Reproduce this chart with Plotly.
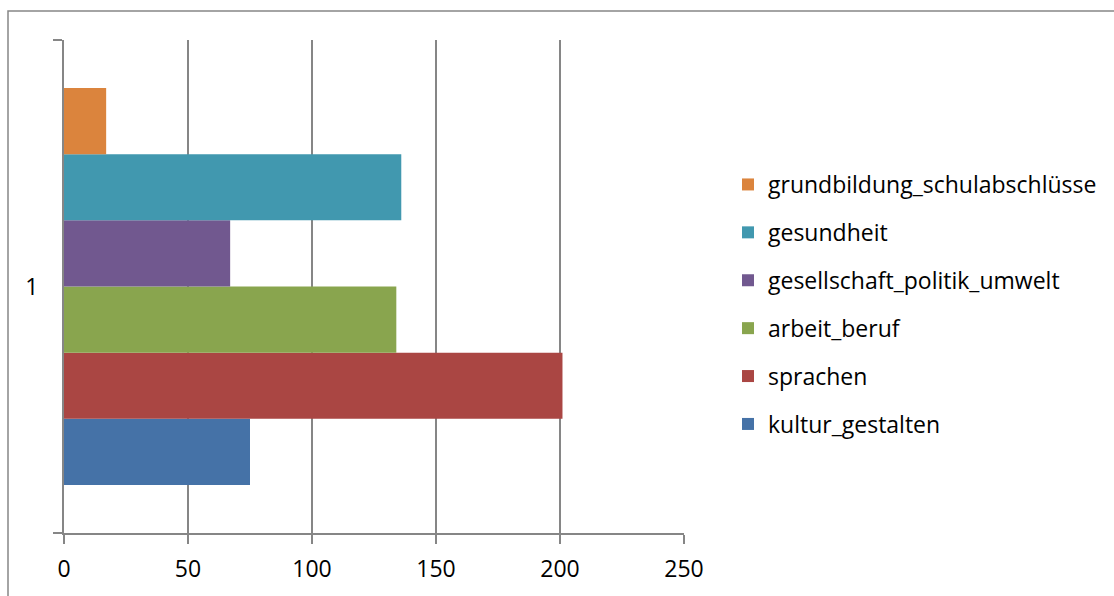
import plotly.graph_objects as go

# Kursanzahl je Programmbereich
category = ["1"]
series_names = [
    "kultur_gestalten",
    "sprachen",
    "arbeit_beruf",
    "gesellschaft_politik_umwelt",
    "gesundheit",
    "grundbildung_schulabschlüsse",
]
series_values = [75, 201, 134, 67, 136, 17]
series_colors = ["#4572A7", "#AA4643", "#89A54E", "#71588F", "#4198AF", "#DB843D"]
x_ticks = [0, 50, 100, 150, 200, 250]

FONT = "Open Sans"
FS = 23
GRAY = "#868686"

fig = go.Figure()
n = len(series_names)
for i, (name, val, col) in enumerate(zip(series_names, series_values, series_colors)):
    fig.add_trace(go.Bar(
        y=category, x=[val], name=name, orientation="h",
        marker=dict(color=col, line=dict(width=0)),
        legendgroup=f"g{i}", legendrank=n - i,
    ))

W, H = 1114, 596
L, R, T, B = 64, 430, 40, 63
pw, ph = W - L - R, H - T - B

fig.update_layout(
    width=W, height=H,
    margin=dict(l=L, r=R, t=T, b=B),
    paper_bgcolor="white", plot_bgcolor="white",
    barmode="group", bargap=0.195, bargroupgap=0,
    font=dict(family=FONT, size=FS, color="black"),
    showlegend=True,
    legend=dict(
        x=(728 - L) / pw, xanchor="left",
        y=(H - B - 163) / ph, yanchor="top",
        traceorder="grouped", tracegroupgap=15,
        font=dict(family=FONT, size=FS, color="black"),
        bgcolor="rgba(0,0,0,0)",
    ),
    xaxis=dict(
        range=[0, 250], tickvals=x_ticks, ticktext=[str(v) for v in x_ticks],
        showgrid=True, gridcolor=GRAY, gridwidth=1.5,
        showline=True, linecolor=GRAY, linewidth=2,
        ticks="outside", ticklen=9, tickcolor=GRAY, tickwidth=1.5,
        ticklabelstandoff=5, zeroline=False, fixedrange=True,
    ),
    yaxis=dict(
        type="category", range=[-0.5, 0.5],
        showgrid=False, showline=True, linecolor=GRAY, linewidth=2,
        ticks="outside", ticklen=9, tickcolor=GRAY, tickwidth=1.5,
        tickson="boundaries", ticklabelstandoff=19, fixedrange=True,
    ),
)

# Rahmen um den Diagrammbereich
fig.add_shape(
    type="rect", xref="paper", yref="paper",
    x0=(8 - L) / pw, x1=(W + 20 - L) / pw,
    y0=(H - B - (H + 20)) / ph, y1=(H - B - 11) / ph,
    line=dict(color=GRAY, width=1.5), fillcolor="rgba(0,0,0,0)", layer="below",
)

fig.write_html("out.html")
